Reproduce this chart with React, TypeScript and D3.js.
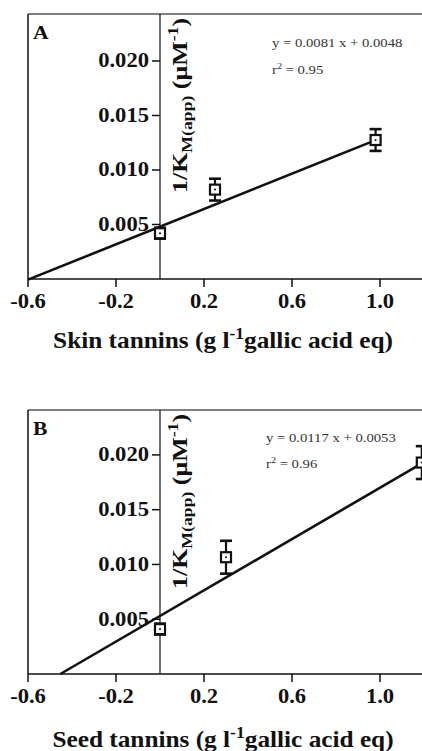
import React from "react";
import * as d3 from "d3";

const xTicks = [-0.6, -0.2, 0.2, 0.6, 1.0];
const yTicks = [0.005, 0.01, 0.015, 0.02];

const skinX = [0, 0.25, 0.98];
const skinY = [0.0042, 0.0082, 0.01275];
const skinErr = [0.0005, 0.001, 0.001];
const skinFit = { slope: 0.0081, intercept: 0.0048, from: -0.6, to: 0.98 };

const seedX = [0, 0.3, 1.19];
const seedY = [0.0041, 0.01066, 0.0193];
const seedErr = [0.0005, 0.0015, 0.0015];
const seedFit = { slope: 0.0117, intercept: 0.0053, from: -0.453, to: 1.19 };

const FONT = "'Liberation Serif', 'Times New Roman', Times, serif";
const W = 422;
const H = 751;
const SX = 1.13;

function fmtY(v: number) {
  return v.toFixed(3);
}
function fmtX(v: number) {
  return v.toFixed(1);
}

type PanelProps = {
  top: number;
  bottom: number;
  yMax: number;
  letter: string;
  xs: number[];
  ys: number[];
  errs: number[];
  fit: { slope: number; intercept: number; from: number; to: number };
  eq: string;
  r2: string;
  eqX: number;
  eqY: number;
  r2Y: number;
  titleMain: string;
  titleBaseline: number;
};

function Panel(p: PanelProps) {
  const x = d3.scaleLinear().domain([-0.6, 1.2]).range([28, 424]);
  const y = d3.scaleLinear().domain([0, p.yMax]).range([p.bottom, p.top]);
  const x0 = x(0);
  const line = d3
    .line<number>()
    .x((d) => x(d))
    .y((d) => y(p.fit.slope * d + p.fit.intercept));
  return (
    <g>
      {/* frame */}
      <line x1={28} x2={W} y1={p.top} y2={p.top} stroke="#555" strokeWidth={1.3} />
      <line x1={28} x2={28} y1={p.top} y2={p.bottom} stroke="#111" strokeWidth={1.5} />
      {/* y axis at x=0 */}
      <line x1={x0} x2={x0} y1={p.top} y2={p.bottom} stroke="#111" strokeWidth={1.2} />
      {yTicks.map((t) => (
        <g key={t}>
          <line x1={x0 - 8} x2={x0} y1={y(t)} y2={y(t)} stroke="#111" strokeWidth={1.5} />
          <g transform={`translate(${x0 - 11},${y(t) + 6.5}) scale(${SX},1)`}>
            <text textAnchor="end" fontFamily={FONT} fontWeight="bold" fontSize={20} fill="#111">
              {fmtY(t)}
            </text>
          </g>
        </g>
      ))}
      {/* x axis */}
      <line x1={28} x2={W} y1={p.bottom} y2={p.bottom} stroke="#111" strokeWidth={1.6} />
      {xTicks.map((t) => (
        <g key={t}>
          <line x1={x(t)} x2={x(t)} y1={p.bottom} y2={p.bottom + 8} stroke="#111" strokeWidth={1.5} />
          <g transform={`translate(${x(t)},${p.bottom + 29}) scale(${SX},1)`}>
            <text textAnchor="middle" fontFamily={FONT} fontWeight="bold" fontSize={20} fill="#111">
              {fmtX(t)}
            </text>
          </g>
        </g>
      ))}
      {/* y label */}
      <g transform={`translate(${x0 + 27},${p.top + 179}) rotate(-90) scale(1.18,1)`}>
        <text fontFamily={FONT} fontWeight="bold" fontSize={22} fill="#111">
          1/K
          <tspan fontSize={15} dy={5}>
            M(app)
          </tspan>
          <tspan dy={-5}> (μM</tspan>
          <tspan fontSize={15} dy={-9}>
            -1
          </tspan>
          <tspan dy={9}>)</tspan>
        </text>
      </g>
      {/* letter */}
      <g transform={`translate(33,${p.top + 25}) scale(1.2,1)`}>
        <text fontFamily={FONT} fontWeight="bold" fontSize={18} fill="#111">
          {p.letter}
        </text>
      </g>
      {/* equation */}
      <g transform={`translate(${p.eqX},${p.eqY}) scale(${SX},1)`}>
        <text fontFamily={FONT} fontSize={13} fill="#333">
          {p.eq}
        </text>
      </g>
      <g transform={`translate(${p.eqX},${p.r2Y}) scale(${SX},1)`}>
        <text fontFamily={FONT} fontSize={13} fill="#333">
          r<tspan fontSize={9} dy={-5}>2</tspan>
          <tspan dy={5}>{" = " + p.r2}</tspan>
        </text>
      </g>
      {/* fit line */}
      <path
        d={line([p.fit.from, p.fit.to]) || ""}
        fill="none"
        stroke="#111"
        strokeWidth={2.6}
      />
      {/* points */}
      {p.xs.map((xv, i) => {
        const cx = x(xv);
        const cy = y(p.ys[i]);
        const yt = y(p.ys[i] + p.errs[i]);
        const yb = y(p.ys[i] - p.errs[i]);
        return (
          <g key={i}>
            <line x1={cx} x2={cx} y1={yt} y2={yb} stroke="#111" strokeWidth={2.2} />
            <line x1={cx - 6} x2={cx + 6} y1={yt} y2={yt} stroke="#111" strokeWidth={2.6} />
            <line x1={cx - 6} x2={cx + 6} y1={yb} y2={yb} stroke="#111" strokeWidth={2.6} />
            <rect x={cx - 5} y={cy - 5} width={10} height={10} fill="#fff" stroke="#111" strokeWidth={2.2} />
            <circle cx={cx} cy={cy} r={1} fill="#111" />
          </g>
        );
      })}
      {/* title */}
      <g transform={`translate(${W / 2 + 12},${p.titleBaseline}) scale(1.1,1)`}>
        <text textAnchor="middle" fontFamily={FONT} fontWeight="bold" fontSize={23} fill="#111">
          {p.titleMain + " (g l"}
          <tspan fontSize={16} dy={-9}>
            -1
          </tspan>
          <tspan dy={9}>gallic acid eq)</tspan>
        </text>
      </g>
    </g>
  );
}

export default function App() {
  return (
    <svg
      width={W}
      height={H}
      viewBox={`0 0 ${W} ${H}`}
      style={{ position: "absolute", left: 0, top: 0, background: "#fff", overflow: "hidden" }}
    >
      <rect x={0} y={0} width={W} height={H} fill="#fff" />
      <Panel
        top={14}
        bottom={279}
        yMax={0.02431}
        letter="A"
        xs={skinX}
        ys={skinY}
        errs={skinErr}
        fit={skinFit}
        eq="y = 0.0081 x + 0.0048"
        r2="0.95"
        eqX={272}
        eqY={47}
        r2Y={74}
        titleMain="Skin tannins"
        titleBaseline={348}
      />
      <Panel
        top={410}
        bottom={674}
        yMax={0.0241}
        letter="B"
        xs={seedX}
        ys={seedY}
        errs={seedErr}
        fit={seedFit}
        eq="y = 0.0117 x + 0.0053"
        r2="0.96"
        eqX={266}
        eqY={442}
        r2Y={468}
        titleMain="Seed tannins"
        titleBaseline={747}
      />
    </svg>
  );
}
